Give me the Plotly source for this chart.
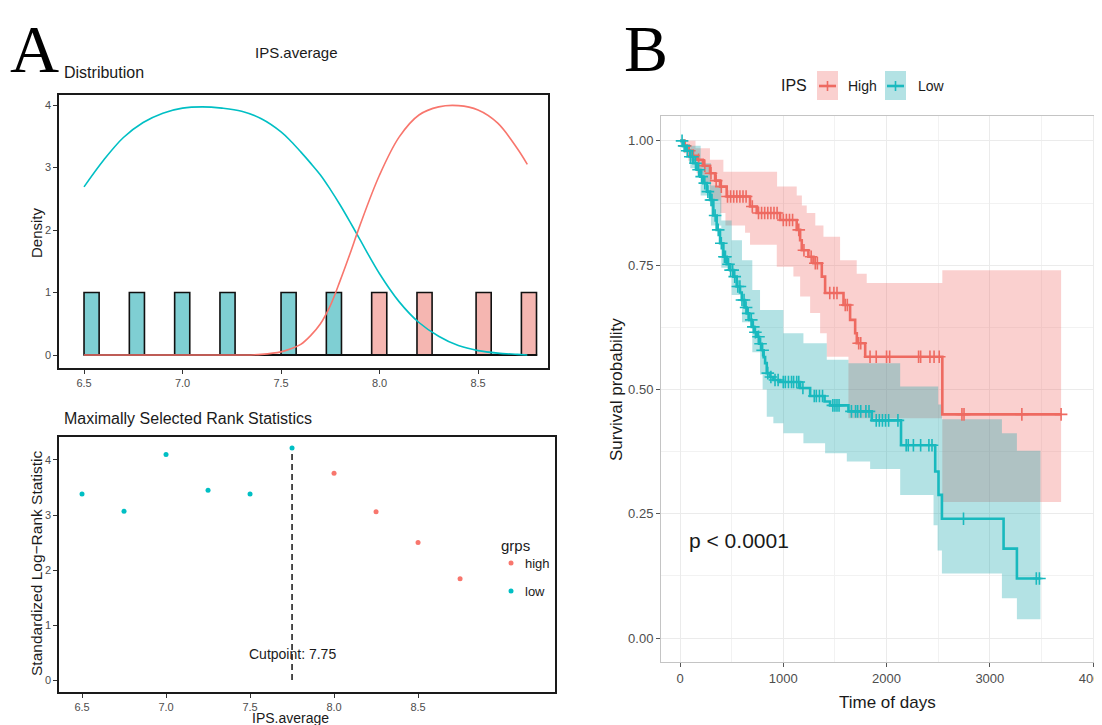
import numpy as np
import plotly.graph_objects as go

# page is shown with the browser's default 8px body margin
OFF = 8
W, H = 1102 - OFF, 725 - OFF
def px(x): return (x - OFF) / W
def py(y): return 1 - (y - OFF) / H

RED = "#F8766D"
TEAL = "#00BFC4"
FONT = "Liberation Sans, Arial, sans-serif"
SERIF = "Liberation Serif, Times New Roman, serif"

# ---------------- Panel A (top): distribution ----------------
hist_left = [6.50, 6.73, 6.96, 7.19, 7.50, 7.73, 7.96, 8.19, 8.49, 8.72]
hist_count = [1, 1, 1, 1, 1, 1, 1, 1, 1, 1]
hist_group = ["low", "low", "low", "low", "low", "low", "high", "high", "high", "high"]
hist_width = 0.0767
hist_range = [6.50, 8.80]

dens_x = [6.5, 6.6, 6.7, 6.8, 6.9, 7.0, 7.1, 7.2, 7.3, 7.4, 7.5, 7.55, 7.6, 7.65, 7.7,
          7.75, 7.8, 7.85, 7.9, 8.0, 8.1, 8.2, 8.3, 8.4, 8.5, 8.6, 8.7, 8.75]
dens_low = [2.69, 3.12, 3.48, 3.72, 3.87, 3.95, 3.97, 3.95, 3.90, 3.78, 3.57, 3.42, 3.25, 3.07, 2.88,
            2.65, 2.40, 2.13, 1.85, 1.30, 0.85, 0.52, 0.30, 0.15, 0.07, 0.03, 0.01, 0.0]
dens_high = [0.0, 0.0, 0.0, 0.0, 0.0, 0.0, 0.0, 0.0, 0.0, 0.01, 0.05, 0.10, 0.17, 0.31, 0.50,
             0.79, 1.19, 1.62, 2.07, 2.88, 3.49, 3.84, 3.97, 3.99, 3.92, 3.71, 3.30, 3.05]

# ---------------- Panel A (bottom): maximally selected rank statistics ----------------
cut_x = [6.5, 6.75, 7.0, 7.25, 7.5, 7.75, 8.0, 8.25, 8.5, 8.75]
cut_stat = [3.38, 3.07, 4.10, 3.45, 3.38, 4.22, 3.76, 3.06, 2.50, 1.84]
cut_grp = ["low", "low", "low", "low", "low", "low", "high", "high", "high", "high"]
cutpoint = 7.75

# ---------------- Panel B: Kaplan-Meier ----------------
high_t = [0, 40, 80, 120, 161, 220, 291, 340, 388, 452, 678, 743, 969, 1130, 1163, 1179, 1243,
          1292, 1373, 1405, 1583, 1647, 1696, 1712, 1793, 2540, 3690]
high_s = [1.0, 0.99, 0.98, 0.97, 0.962, 0.95, 0.935, 0.92, 0.908, 0.888, 0.868, 0.855, 0.841,
          0.821, 0.80, 0.78, 0.767, 0.754, 0.727, 0.694, 0.67, 0.64, 0.613, 0.593, 0.566, 0.45, 0.45]
high_ci_t = [0, 40, 80, 150, 161, 220, 290, 388, 420, 440, 630, 678, 937, 940, 1098, 1130, 1163,
             1180, 1227, 1260, 1310, 1357, 1389, 1421, 1550, 1631, 1711, 1808, 2540, 3690]
high_hi = [1.0, 1.0, 1.0, 0.985, 0.985, 0.985, 0.962, 0.962, 0.938, 0.938, 0.938, 0.938, 0.938,
           0.908, 0.908, 0.89, 0.89, 0.87, 0.855, 0.855, 0.83, 0.83, 0.807, 0.807, 0.76, 0.76,
           0.733, 0.714, 0.74, 0.74]
high_lo = [1.0, 0.975, 0.96, 0.96, 0.935, 0.915, 0.88, 0.855, 0.855, 0.83, 0.815, 0.791, 0.747,
           0.747, 0.727, 0.727, 0.687, 0.687, 0.687, 0.654, 0.654, 0.613, 0.613, 0.566, 0.566,
           0.442, 0.442, 0.442, 0.274, 0.274]
high_cens = [50, 90, 130, 180, 240, 300, 350, 400, 460, 490, 520, 550, 580, 610, 640, 700, 760,
             790, 820, 850, 880, 910, 940, 1000, 1030, 1060, 1090, 1150, 1200, 1270, 1310, 1330,
             1450, 1490, 1520, 1600, 1620, 1730, 1750, 1840, 1900, 2000, 2030, 2310, 2330, 2420,
             2460, 2510, 2730, 2750, 3310, 3690]

low_t = [0, 30, 60, 97, 130, 161, 195, 226, 260, 291, 323, 355, 388, 420, 452, 485, 517, 549,
         581, 598, 625, 646, 670, 695, 720, 743, 765, 791, 810, 824, 840, 870, 904, 969, 1163,
         1260, 1400, 1453, 1631, 1857, 2140, 2471, 2503, 2536, 3133, 3262, 3490]
low_s = [1.0, 0.99, 0.98, 0.968, 0.955, 0.942, 0.928, 0.915, 0.898, 0.881, 0.85, 0.821, 0.794,
         0.767, 0.752, 0.74, 0.727, 0.707, 0.695, 0.68, 0.665, 0.653, 0.64, 0.626, 0.615, 0.606,
         0.592, 0.579, 0.565, 0.553, 0.533, 0.525, 0.519, 0.515, 0.503, 0.487, 0.476, 0.468,
         0.456, 0.438, 0.388, 0.335, 0.288, 0.24, 0.18, 0.12, 0.12]
low_ci_t = [0, 100, 200, 300, 400, 500, 600, 700, 775, 800, 840, 904, 1001, 1195, 1405, 1421,
            1615, 1631, 1841, 2132, 2455, 2494, 2500, 2536, 3117, 3262, 3490]
low_hi = [1.0, 0.99, 0.955, 0.91, 0.84, 0.80, 0.76, 0.70, 0.66, 0.66, 0.66, 0.66, 0.613, 0.593,
          0.593, 0.56, 0.56, 0.553, 0.553, 0.506, 0.506, 0.506, 0.47, 0.44, 0.412, 0.377, 0.377]
low_lo = [1.0, 0.945, 0.89, 0.83, 0.745, 0.69, 0.635, 0.575, 0.53, 0.50, 0.445, 0.432, 0.412,
          0.392, 0.372, 0.372, 0.355, 0.355, 0.34, 0.288, 0.227, 0.176, 0.176, 0.13, 0.08,
          0.038, 0.038]
low_cens = [20, 40, 70, 100, 120, 150, 180, 210, 240, 270, 300, 310, 340, 370, 400, 430, 440,
            470, 490, 510, 530, 560, 580, 600, 620, 640, 660, 690, 710, 730, 760, 780, 800, 850,
            880, 920, 950, 1000, 1020, 1050, 1080, 1100, 1130, 1150, 1190, 1300, 1320, 1350,
            1380, 1480, 1500, 1520, 1540, 1660, 1700, 1720, 1750, 1800, 1830, 1900, 1930, 1960,
            1990, 2020, 2110, 2190, 2210, 2260, 2330, 2410, 2440, 2745, 3450, 3480]

p_text = "p < 0.0001"


def step_lookup(t, s, q):
    t = np.asarray(t); s = np.asarray(s)
    idx = np.searchsorted(t, np.asarray(q), side="right") - 1
    return s[np.clip(idx, 0, len(s) - 1)]


fig = go.Figure()

# ---- top A: bars ----
bar_fill = {"low": "rgba(0,160,168,0.5)", "high": "rgba(235,110,100,0.5)"}
fig.add_trace(go.Bar(x=hist_left, y=hist_count, width=hist_width, offset=0,
                     marker=dict(color=[bar_fill[g] for g in hist_group],
                                 line=dict(color="#111111", width=1.6)),
                     xaxis="x", yaxis="y", showlegend=False, hoverinfo="skip"))
fig.add_trace(go.Scatter(x=hist_range, y=[0, 0], mode="lines",
                         line=dict(color="#111111", width=2.2),
                         xaxis="x", yaxis="y", showlegend=False, hoverinfo="skip"))
fig.add_trace(go.Scatter(x=dens_x, y=dens_low, mode="lines", line=dict(color=TEAL, width=1.6, shape="spline"),
                         xaxis="x", yaxis="y", showlegend=False))
fig.add_trace(go.Scatter(x=dens_x, y=dens_high, mode="lines", line=dict(color=RED, width=1.6, shape="spline"),
                         xaxis="x", yaxis="y", showlegend=False))

# ---- bottom A ----
fig.add_trace(go.Scatter(x=[cutpoint, cutpoint], y=[0, max(cut_stat)], mode="lines",
                         line=dict(color="#222222", width=1.6, dash="6px,4px"),
                         xaxis="x2", yaxis="y2", showlegend=False))
for g, c in (("low", TEAL), ("high", RED)):
    xs = [x for x, gg in zip(cut_x, cut_grp) if gg == g]
    ys = [y for y, gg in zip(cut_stat, cut_grp) if gg == g]
    fig.add_trace(go.Scatter(x=xs, y=ys, mode="markers", marker=dict(color=c, size=5),
                             xaxis="x2", yaxis="y2", showlegend=False))

# ---- panel B: bands ----
bands = [(high_ci_t, high_lo, high_hi, "rgba(240,110,105,0.32)"),
         (low_ci_t, low_lo, low_hi, "rgba(20,165,172,0.32)")]
for t, lo, hi, fc in bands:
    fig.add_trace(go.Scatter(x=t, y=lo, mode="lines", line=dict(width=0, shape="hv"),
                             xaxis="x3", yaxis="y3", showlegend=False, hoverinfo="skip"))
    fig.add_trace(go.Scatter(x=t, y=hi, mode="lines", line=dict(width=0, shape="hv"),
                             fill="tonexty", fillcolor=fc,
                             xaxis="x3", yaxis="y3", showlegend=False, hoverinfo="skip"))

for t, s, cens, c in ((high_t, high_s, high_cens, "#EE6A61"), (low_t, low_s, low_cens, "#19B9BE")):
    fig.add_trace(go.Scatter(x=t, y=s, mode="lines", line=dict(color=c, width=2.6, shape="hv"),
                             xaxis="x3", yaxis="y3", showlegend=False))
    fig.add_trace(go.Scatter(x=cens, y=step_lookup(t, s, cens), mode="markers",
                             marker=dict(symbol="cross-thin", size=9, line=dict(color=c, width=1.6)),
                             xaxis="x3", yaxis="y3", showlegend=False))

axA = dict(showgrid=False, zeroline=False, showline=True, mirror=True, linecolor="#1a1a1a",
           linewidth=1.6, ticks="outside", ticklen=4, tickcolor="#333333", tickwidth=1,
           tickfont=dict(family=FONT, size=11, color="#4d4d4d"), automargin=False)
axB = dict(showgrid=True, gridcolor="#ebebeb", gridwidth=1.1, zeroline=False, showline=True,
           linecolor="#c4c4c4", linewidth=1, ticks="outside", ticklen=4, tickcolor="#555555",
           tickwidth=1, tickfont=dict(family=FONT, size=13, color="#4d4d4d"), automargin=False)

fig.update_layout(
    width=W, height=H, margin=dict(l=0, r=0, t=0, b=0, autoexpand=False),
    paper_bgcolor="white", plot_bgcolor="white", showlegend=False,
    font=dict(family=FONT, color="#1a1a1a"),
    xaxis=dict(axA, domain=[px(59), px(548)], range=[6.373, 8.855], tickvals=[6.5, 7.0, 7.5, 8.0, 8.5],
               tickformat=".1f", anchor="y"),
    yaxis=dict(axA, domain=[py(368), py(95)], range=[-0.208, 4.16], tickvals=[0, 1, 2, 3, 4], anchor="x"),
    xaxis2=dict(axA, domain=[px(59), px(555)], range=[6.363, 9.315], tickvals=[6.5, 7.0, 7.5, 8.0, 8.5],
                tickformat=".1f", anchor="y2"),
    yaxis2=dict(axA, domain=[py(692), py(437)], range=[-0.218, 4.418], tickvals=[0, 1, 2, 3, 4], anchor="x2"),
    xaxis3=dict(axB, domain=[px(661), 1.0], range=[-184, 4086], tickvals=[0, 1000, 2000, 3000, 4000],
                mirror=True, anchor="y3", ticklabeloverflow="allow",
                minor=dict(tickvals=[500, 1500, 2500, 3500], showgrid=True, gridcolor="#f2f2f2",
                           gridwidth=0.6, ticks="")),
    yaxis3=dict(axB, domain=[py(662), py(116)], range=[-0.048, 1.05],
                tickvals=[0, 0.25, 0.5, 0.75, 1.0], tickformat=".2f", anchor="x3",
                minor=dict(tickvals=[0.125, 0.375, 0.625, 0.875], showgrid=True, gridcolor="#f2f2f2",
                           gridwidth=0.6, ticks="")),
)

ann = []
def A(text, x, y, size, xanchor="center", angle=0, family=FONT, color="#1a1a1a"):
    ann.append(dict(text=text, x=px(x), y=py(y), xref="paper", yref="paper", showarrow=False,
                    xanchor=xanchor, yanchor="middle", textangle=angle,
                    font=dict(family=family, size=size, color=color)))

A("A", 8, 49, 68, xanchor="left", family=SERIF, color="black")
A("B", 622, 48, 66, xanchor="left", family=SERIF, color="black")
A("IPS.average", 296, 52, 15)
A("Distribution", 62, 73, 16, xanchor="left")
A("Density", 37, 232, 15, angle=-90)
A("Maximally Selected Rank Statistics", 62, 418, 16, xanchor="left")
A("Standardized Log\u2212Rank Statistic", 36, 563, 15.5, angle=-90)
A("IPS.average", 290, 718, 14)
A("grps", 499, 545, 15, xanchor="left")
A("high", 523, 563, 13, xanchor="left")
A("low", 523, 591, 13, xanchor="left")
A("Survival probability", 617, 390, 17, angle=-90)
A("Time of days", 887, 702, 17)
A("IPS", 779, 86, 16, xanchor="left")
A("High", 846, 86, 14, xanchor="left")
A("Low", 916, 86, 14, xanchor="left")

ann.append(dict(text="Cutpoint: %.2f" % cutpoint, x=cutpoint, y=0.48, xref="x2", yref="y2",
                showarrow=False, xanchor="center", yanchor="middle",
                font=dict(family=FONT, size=14, color="#1a1a1a")))
ann.append(dict(text=p_text, x=70, y=0.196, xref="x3", yref="y3", showarrow=False,
                xanchor="left", yanchor="middle", font=dict(family=FONT, size=21, color="#1a1a1a")))
fig.update_layout(annotations=ann)

shapes = []
def S(**kw):
    kw.setdefault("xref", "paper"); kw.setdefault("yref", "paper")
    shapes.append(kw)

# legend of bottom A
for yy, c in ((563, RED), (591, TEAL)):
    S(type="circle", x0=px(508.5), x1=px(513.5), y0=py(yy + 2.5), y1=py(yy - 2.5),
      fillcolor=c, line=dict(width=0))
# legend of panel B
for x0, lc, fc in ((817, "#EE6A61", "rgba(240,110,105,0.32)"), (885, "#19B9BE", "rgba(20,165,172,0.32)")):
    S(type="rect", x0=px(x0), x1=px(x0 + 21), y0=py(100), y1=py(71), fillcolor=fc, line=dict(width=0))
    S(type="line", x0=px(x0 + 2), x1=px(x0 + 19), y0=py(86), y1=py(86), line=dict(color=lc, width=2.6))
    S(type="line", x0=px(x0 + 10.5), x1=px(x0 + 10.5), y0=py(81), y1=py(91), line=dict(color=lc, width=1.6))
fig.update_layout(shapes=shapes)

fig.write_html("out.html")
